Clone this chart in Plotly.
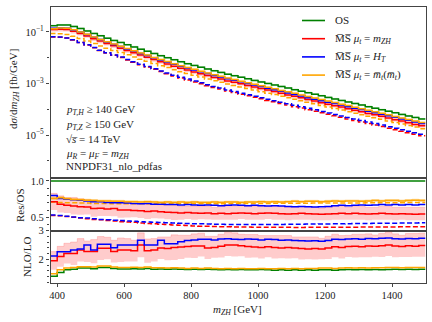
import plotly.graph_objects as go

# bin edges of the m_ZH histogram [GeV]
edges = list(range(380, 1520, 20))

# NLO cross section, OS scheme [fb/GeV]
os_nlo = [0.174, 0.186, 0.186, 0.162, 0.135, 0.110, 0.0871, 0.0708, 0.0575, 0.0468,
          0.0389, 0.0316, 0.0263, 0.0214, 0.0178, 0.0145, 0.0120, 0.0100, 0.00832, 0.00692,
          0.00589, 0.00501, 0.00427, 0.00363, 0.00309, 0.00269, 0.00229, 0.00200, 0.00174, 0.00151,
          0.00132, 0.00115, 0.00100, 8.71e-4, 7.59e-4, 6.61e-4, 5.75e-4, 5.01e-4, 4.37e-4, 3.80e-4,
          3.31e-4, 2.88e-4, 2.51e-4, 2.19e-4, 1.91e-4, 1.66e-4, 1.45e-4, 1.26e-4, 1.10e-4, 9.55e-5,
          8.32e-5, 7.24e-5, 6.31e-5, 5.50e-5, 4.79e-5, 4.17e-5]

# NLO ratios to OS
res_red = [0.715, 0.68, 0.665, 0.655, 0.645, 0.64, 0.62, 0.625, 0.615, 0.62,
           0.60, 0.60, 0.595, 0.59, 0.58, 0.585, 0.575, 0.57, 0.565, 0.56,
           0.565, 0.56, 0.555, 0.56, 0.55, 0.555, 0.55, 0.555, 0.56, 0.555,
           0.55, 0.555, 0.56, 0.555, 0.55, 0.545, 0.55, 0.555, 0.55, 0.545,
           0.54, 0.545, 0.55, 0.555, 0.55, 0.555, 0.55, 0.545, 0.55, 0.555,
           0.55, 0.545, 0.55, 0.545, 0.54, 0.545]
res_blue = [0.80, 0.76, 0.75, 0.74, 0.735, 0.725, 0.715, 0.715, 0.705, 0.70,
            0.70, 0.695, 0.69, 0.685, 0.69, 0.68, 0.68, 0.675, 0.675, 0.67,
            0.675, 0.67, 0.665, 0.67, 0.665, 0.66, 0.665, 0.67, 0.665, 0.66,
            0.665, 0.66, 0.655, 0.66, 0.655, 0.65, 0.645, 0.65, 0.645, 0.64,
            0.645, 0.65, 0.66, 0.665, 0.66, 0.665, 0.67, 0.665, 0.67, 0.675,
            0.67, 0.675, 0.67, 0.675, 0.67, 0.675]
res_orange = [0.76, 0.77, 0.755, 0.745, 0.74, 0.735, 0.73, 0.725, 0.725, 0.72,
              0.72, 0.715, 0.715, 0.71, 0.715, 0.71, 0.705, 0.71, 0.705, 0.71,
              0.705, 0.71, 0.705, 0.705, 0.71, 0.705, 0.71, 0.71, 0.705, 0.71,
              0.71, 0.715, 0.71, 0.715, 0.71, 0.715, 0.72, 0.715, 0.72, 0.72,
              0.715, 0.72, 0.725, 0.72, 0.725, 0.725, 0.72, 0.725, 0.73, 0.725,
              0.73, 0.73, 0.725, 0.73, 0.735, 0.73]

# LO ratios to LO OS
res_lo_red = [0.525, 0.52, 0.51, 0.50, 0.49, 0.48, 0.47, 0.465, 0.455, 0.45,
              0.44, 0.435, 0.43, 0.42, 0.415, 0.41, 0.405, 0.40, 0.395, 0.39,
              0.385, 0.38, 0.378, 0.375, 0.372, 0.37, 0.368, 0.367, 0.366, 0.365,
              0.364, 0.363, 0.362, 0.362, 0.361, 0.361, 0.36, 0.36, 0.361, 0.361,
              0.362, 0.362, 0.363, 0.363, 0.364, 0.364, 0.365, 0.365, 0.366, 0.366,
              0.367, 0.367, 0.368, 0.368, 0.369, 0.37]
res_lo_blue = [0.53, 0.525, 0.515, 0.505, 0.495, 0.49, 0.48, 0.47, 0.465, 0.46,
               0.455, 0.45, 0.445, 0.44, 0.435, 0.43, 0.428, 0.425, 0.42, 0.418,
               0.415, 0.412, 0.41, 0.408, 0.405, 0.403, 0.402, 0.401, 0.40, 0.40,
               0.40, 0.40, 0.401, 0.401, 0.402, 0.403, 0.404, 0.405, 0.406, 0.407,
               0.408, 0.409, 0.41, 0.411, 0.412, 0.413, 0.414, 0.415, 0.416, 0.417,
               0.418, 0.419, 0.42, 0.421, 0.422, 0.423]
res_lo_orange = [0.71, 0.705, 0.70, 0.70, 0.695, 0.695, 0.69, 0.69, 0.69, 0.688,
                 0.688, 0.687, 0.687, 0.686, 0.686, 0.686, 0.685, 0.685, 0.685, 0.685,
                 0.686, 0.686, 0.686, 0.687, 0.687, 0.688, 0.688, 0.689, 0.689, 0.69,
                 0.69, 0.691, 0.691, 0.692, 0.692, 0.693, 0.693, 0.694, 0.694, 0.695,
                 0.695, 0.696, 0.696, 0.697, 0.697, 0.698, 0.698, 0.699, 0.699, 0.70,
                 0.70, 0.701, 0.701, 0.702, 0.702, 0.703]

# NLO/LO K-factors
k_os = [1.42, 1.55, 1.64, 1.66, 1.70, 1.70, 1.68, 1.72, 1.72, 1.69,
        1.67, 1.67, 1.68, 1.67, 1.69, 1.66, 1.67, 1.66, 1.67, 1.66,
        1.65, 1.66, 1.65, 1.66, 1.65, 1.64, 1.65, 1.64, 1.65, 1.64,
        1.64, 1.65, 1.64, 1.63, 1.64, 1.63, 1.64, 1.63, 1.64, 1.63,
        1.64, 1.64, 1.63, 1.64, 1.65, 1.64, 1.65, 1.64, 1.65, 1.64,
        1.65, 1.66, 1.65, 1.66, 1.65, 1.66]
k_orange = [1.50, 1.64, 1.70, 1.72, 1.75, 1.75, 1.74, 1.77, 1.77, 1.74,
            1.72, 1.72, 1.73, 1.72, 1.74, 1.71, 1.71, 1.70, 1.71, 1.70,
            1.69, 1.70, 1.69, 1.70, 1.69, 1.68, 1.69, 1.68, 1.69, 1.68,
            1.68, 1.69, 1.68, 1.68, 1.69, 1.68, 1.69, 1.68, 1.69, 1.69,
            1.70, 1.70, 1.69, 1.70, 1.71, 1.70, 1.71, 1.70, 1.71, 1.71,
            1.72, 1.72, 1.71, 1.72, 1.72, 1.72]
k_red = [1.96, 2.10, 2.21, 2.21, 2.33, 2.28, 2.28, 2.39, 2.39, 2.28,
         2.33, 2.33, 2.30, 2.50, 2.30, 2.33, 2.40, 2.38, 2.42, 2.43,
         2.45, 2.47, 2.47, 2.40, 2.42, 2.46, 2.50, 2.50, 2.48, 2.45,
         2.43, 2.42, 2.44, 2.42, 2.40, 2.42, 2.40, 2.38, 2.36, 2.38,
         2.36, 2.40, 2.44, 2.42, 2.45, 2.46, 2.44, 2.47, 2.46, 2.48,
         2.50, 2.47, 2.45, 2.48, 2.46, 2.49]
k_blue = [2.12, 2.27, 2.27, 2.33, 2.36, 2.50, 2.33, 2.53, 2.53, 2.41,
          2.50, 2.50, 2.50, 2.67, 2.50, 2.50, 2.67, 2.55, 2.55, 2.62,
          2.66, 2.68, 2.70, 2.70, 2.68, 2.71, 2.72, 2.70, 2.69, 2.71,
          2.70, 2.68, 2.70, 2.69, 2.67, 2.68, 2.66, 2.65, 2.64, 2.65,
          2.63, 2.66, 2.70, 2.69, 2.71, 2.72, 2.70, 2.73, 2.72, 2.74,
          2.75, 2.72, 2.71, 2.73, 2.72, 2.74]

# relative scale-uncertainty envelope of the MSbar mu_t = m_ZH curve
red_up = [1.16, 1.17, 1.16, 1.18, 1.17, 1.16, 1.18, 1.17, 1.16, 1.17,
          1.18, 1.17, 1.16, 1.17, 1.18, 1.17, 1.16, 1.17, 1.18, 1.17,
          1.16, 1.17, 1.18, 1.17, 1.16, 1.17, 1.18, 1.17, 1.16, 1.17,
          1.18, 1.17, 1.16, 1.17, 1.18, 1.17, 1.16, 1.17, 1.18, 1.17,
          1.16, 1.17, 1.18, 1.17, 1.16, 1.17, 1.18, 1.17, 1.16, 1.17,
          1.18, 1.17, 1.16, 1.17, 1.18, 1.17]
red_dn = [0.84, 0.83, 0.84, 0.82, 0.83, 0.84, 0.82, 0.83, 0.84, 0.83,
          0.82, 0.83, 0.84, 0.83, 0.82, 0.83, 0.84, 0.83, 0.82, 0.83,
          0.84, 0.83, 0.85, 0.84, 0.85, 0.84, 0.85, 0.84, 0.85, 0.84,
          0.85, 0.84, 0.85, 0.84, 0.85, 0.84, 0.85, 0.84, 0.85, 0.84,
          0.85, 0.84, 0.85, 0.84, 0.85, 0.84, 0.85, 0.84, 0.85, 0.84,
          0.85, 0.84, 0.85, 0.84, 0.85, 0.84]
# small envelopes of the other NLO curves
orange_rel = [0.02, 0.02, 0.02, 0.02, 0.02, 0.02, 0.02, 0.02, 0.02, 0.02,
              0.02, 0.02, 0.02, 0.02, 0.02, 0.02, 0.02, 0.02, 0.02, 0.02,
              0.02, 0.02, 0.02, 0.02, 0.02, 0.02, 0.02, 0.02, 0.02, 0.02,
              0.02, 0.02, 0.02, 0.02, 0.02, 0.02, 0.02, 0.02, 0.02, 0.02,
              0.02, 0.02, 0.02, 0.02, 0.02, 0.02, 0.02, 0.02, 0.02, 0.02,
              0.02, 0.02, 0.02, 0.02, 0.02, 0.02]
green_rel = [0.05, 0.05, 0.05, 0.05, 0.05, 0.05, 0.05, 0.05, 0.05, 0.05,
             0.05, 0.05, 0.05, 0.05, 0.05, 0.05, 0.05, 0.05, 0.05, 0.05,
             0.05, 0.05, 0.05, 0.05, 0.05, 0.05, 0.05, 0.05, 0.05, 0.05,
             0.05, 0.05, 0.05, 0.05, 0.05, 0.05, 0.05, 0.05, 0.05, 0.05,
             0.05, 0.05, 0.05, 0.05, 0.05, 0.05, 0.05, 0.05, 0.05, 0.05,
             0.05, 0.05, 0.05, 0.05, 0.05, 0.05]

legend_labels = ["OS",
                 "M\u0305S\u0305 <i>\u03bc<sub>t</sub></i> = <i>m<sub>ZH</sub></i>",
                 "M\u0305S\u0305 <i>\u03bc<sub>t</sub></i> = <i>H<sub>T</sub></i>",
                 "M\u0305S\u0305 <i>\u03bc<sub>t</sub></i> = <i>m\u0305<sub>t</sub></i>(<i>m\u0305<sub>t</sub></i>)"]
info_lines = ["<i>p<sub>T,H</sub></i> \u2265 140 GeV",
              "<i>p<sub>T,Z</sub></i> \u2265 150 GeV",
              "\u221a<i>s\u0305</i> = 14 TeV",
              "<i>\u03bc<sub>R</sub></i> = <i>\u03bc<sub>F</sub></i> = <i>m<sub>ZH</sub></i>",
              "NNPDF31_nlo_pdfas"]

GREEN = "#008000"
RED = "#ff0000"
BLUE = "#0000ff"
ORANGE = "#ffa500"
FONT = "Liberation Serif"

n = len(os_nlo)
nlo = {
    "green": os_nlo,
    "red": [os_nlo[i] * res_red[i] for i in range(n)],
    "blue": [os_nlo[i] * res_blue[i] for i in range(n)],
    "orange": [os_nlo[i] * res_orange[i] for i in range(n)],
}
os_lo = [os_nlo[i] / k_os[i] for i in range(n)]
lo = {
    "red": [os_lo[i] * res_lo_red[i] for i in range(n)],
    "blue": [os_lo[i] * res_lo_blue[i] for i in range(n)],
    "orange": [os_lo[i] * res_lo_orange[i] for i in range(n)],
}


def step(vals):
    return list(vals) + [vals[-1]]


fig = go.Figure()


def line(vals, color, xa, ya, dash=None):
    fig.add_trace(go.Scatter(
        x=edges, y=step(vals), mode="lines", line_shape="hv",
        line=dict(color=color, width=1.5, dash=dash),
        xaxis=xa, yaxis=ya, showlegend=False, hoverinfo="skip"))


def band(lo_vals, hi_vals, fill, xa, ya):
    fig.add_trace(go.Scatter(
        x=edges, y=step(lo_vals), mode="lines", line_shape="hv",
        line=dict(width=0), xaxis=xa, yaxis=ya, showlegend=False, hoverinfo="skip"))
    fig.add_trace(go.Scatter(
        x=edges, y=step(hi_vals), mode="lines", line_shape="hv",
        line=dict(width=0.8, color=fill), fill="tonexty", fillcolor=fill,
        xaxis=xa, yaxis=ya, showlegend=False, hoverinfo="skip"))


PINK = "rgba(255,0,0,0.2)"
LORANGE = "rgba(255,165,0,0.3)"
LGREEN = "rgba(0,128,0,0.25)"

# main panel
band([v * (1 - green_rel[i]) for i, v in enumerate(nlo["green"])],
     [v * (1 + green_rel[i]) for i, v in enumerate(nlo["green"])], LGREEN, "x", "y")
band([v * red_dn[i] for i, v in enumerate(nlo["red"])],
     [v * red_up[i] for i, v in enumerate(nlo["red"])], PINK, "x", "y")
band([v * (1 - orange_rel[i]) for i, v in enumerate(nlo["orange"])],
     [v * (1 + orange_rel[i]) for i, v in enumerate(nlo["orange"])], LORANGE, "x", "y")
line(lo["orange"], ORANGE, "x", "y", "5px,2.5px")
line(lo["red"], RED, "x", "y", "5px,2.5px")
line(lo["blue"], BLUE, "x", "y", "5px,2.5px")
line(nlo["green"], GREEN, "x", "y")
line(nlo["red"], RED, "x", "y")
line(nlo["blue"], BLUE, "x", "y")
line(nlo["orange"], ORANGE, "x", "y")

# Res/OS panel
band([res_red[i] * red_dn[i] for i in range(n)],
     [res_red[i] * red_up[i] for i in range(n)], PINK, "x2", "y2")
band([res_orange[i] * (1 - orange_rel[i]) for i in range(n)],
     [res_orange[i] * (1 + orange_rel[i]) for i in range(n)], LORANGE, "x2", "y2")
line(res_lo_red, RED, "x2", "y2", "5px,2.5px")
line(res_lo_blue, BLUE, "x2", "y2", "5px,2.5px")
line(res_lo_orange, ORANGE, "x2", "y2", "5px,2.5px")
line([os_nlo[i] / os_nlo[i] for i in range(n)], GREEN, "x2", "y2")
line(res_red, RED, "x2", "y2")
line(res_blue, BLUE, "x2", "y2")
line(res_orange, ORANGE, "x2", "y2")

# NLO/LO panel
band([k_red[i] * red_dn[i] for i in range(n)],
     [k_red[i] * red_up[i] for i in range(n)], PINK, "x3", "y3")
line(k_os, GREEN, "x3", "y3")
line(k_red, RED, "x3", "y3")
line(k_blue, BLUE, "x3", "y3")
line(k_orange, ORANGE, "x3", "y3")

W, H = 432, 322
xdom = [50.5 / W, 425.5 / W]


def ydom(top_px, bot_px):
    return [1 - bot_px / H, 1 - top_px / H]


axis_common = dict(showline=True, linecolor="#444444", linewidth=1.2, mirror=True,
                   showgrid=False, zeroline=False, automargin=False,
                   tickcolor="#444444", tickfont=dict(family=FONT, size=10.5, color="#222222"))

fig.update_layout(
    width=W, height=H, margin=dict(l=0, r=0, t=0, b=0, autoexpand=False),
    paper_bgcolor="white", plot_bgcolor="white", showlegend=False,
    font=dict(family=FONT, size=10.5, color="#222222"),
    xaxis=dict(domain=xdom, range=[380, 1500], anchor="y", showticklabels=False,
               ticks="", **axis_common),
    xaxis2=dict(domain=xdom, range=[380, 1500], anchor="y2", showticklabels=False,
                matches="x", ticks="", **axis_common),
    xaxis3=dict(domain=xdom, range=[380, 1500], anchor="y3", matches="x", ticks="outside",
                ticklen=3, tickvals=[400, 600, 800, 1000, 1200, 1400], **axis_common),
    yaxis=dict(domain=ydom(6.7, 178.3), type="log", range=[-6.68, -0.02], anchor="x",
               ticks="outside", ticklen=3.5, tickvals=[1e-1, 1e-3, 1e-5],
               ticktext=["10<sup>\u22121</sup>", "10<sup>\u22123</sup>", "10<sup>\u22125</sup>"],
               minor=dict(tickmode="array", tickvals=[1e-2, 1e-4, 1e-6], ticks="outside",
                          ticklen=2, tickcolor="#444444"),
               **axis_common),
    yaxis2=dict(domain=ydom(178.3, 230.7), range=[0.315, 1.037], anchor="x2",
                ticks="outside", ticklen=3.5, tickvals=[0.5, 1.0], ticktext=["0.5", "1.0"],
                minor=dict(dtick=0.1, tick0=0, ticks="outside", ticklen=2, tickcolor="#444444"),
                **axis_common),
    yaxis3=dict(domain=ydom(230.7, 282.5), range=[1.2, 3.0], anchor="x3",
                ticks="outside", ticklen=3.5, tickvals=[2, 3], ticktext=["2", "3"],
                minor=dict(dtick=0.2, tick0=0, ticks="outside", ticklen=2, tickcolor="#444444"),
                **axis_common),
)


def note(text, xp, yp, xanchor="center", angle=0):
    fig.add_annotation(text=text, x=xp / W, y=1 - yp / H, xref="paper", yref="paper",
                       xanchor=xanchor, yanchor="middle", textangle=angle,
                       showarrow=False, font=dict(size=11))


# axis titles
note("d<i>\u03c3</i>/d<i>m<sub>ZH</sub></i> [fb/GeV]", 14, 89, angle=-90)
note("Res/OS", 20, 205, angle=-90)
note("NLO/LO", 27, 257, angle=-90)
note("<i>m<sub>ZH</sub></i> [GeV]", 237, 310)

# process info
for txt, yp in zip(info_lines, [110, 125, 139, 154, 166.5]):
    note(txt, 64, yp, xanchor="left")

# legend drawn by hand
for i, (lab, col) in enumerate(zip(legend_labels, [GREEN, RED, BLUE, ORANGE])):
    yp = 20.5 + 18.2 * i
    fig.add_shape(type="line", xref="paper", yref="paper", x0=302 / W, x1=325 / W,
                  y0=1 - yp / H, y1=1 - yp / H, line=dict(color=col, width=1.6))
    note(lab, 333, yp, xanchor="left")

# drop the browser's default page margin so the figure sits at the window origin
fig.write_html("out.html", config={"displayModeBar": False},
               post_script="document.body.style.margin='0px';")
